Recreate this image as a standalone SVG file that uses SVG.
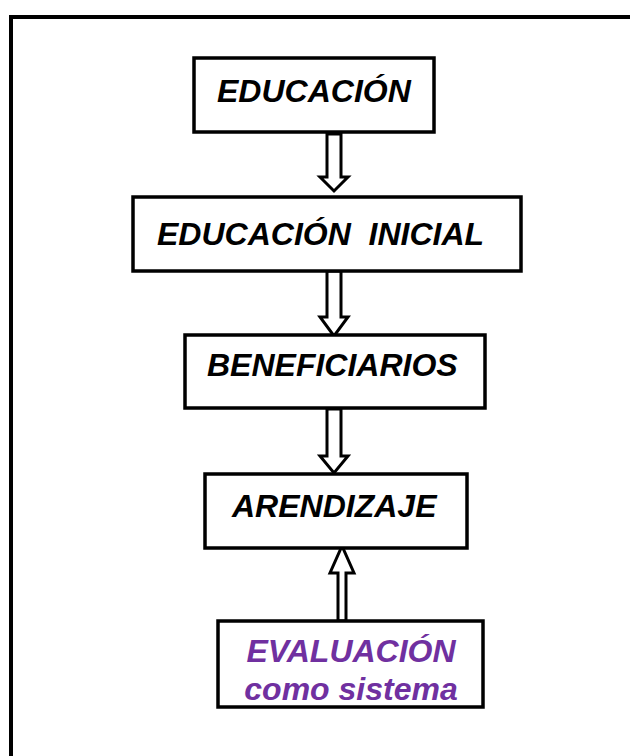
<svg xmlns="http://www.w3.org/2000/svg" width="630" height="756" viewBox="0 0 630 756">
<style>
.box{fill:#fff;stroke:#000;stroke-width:3.5}
.t{font-family:"Liberation Sans",Arial,sans-serif;font-weight:bold;font-style:italic;font-size:32px;fill:#000}
.p{fill:#7030A0;text-anchor:middle}
.arr{fill:#fff;stroke:#000;stroke-width:3;stroke-linejoin:miter}
</style>
<rect x="0" y="0" width="630" height="756" fill="#fff"/>
<rect x="11" y="17" width="640" height="760" fill="none" stroke="#000" stroke-width="4"/>
<g id="connectors">
<path class="arr" d="M327,134 L341,134 L341,177 L348,177 L334,191 L320,177 L327,177 Z"/>
<path class="arr" d="M327,271 L341,271 L341,317 L348,317 L334,336 L320,317 L327,317 Z"/>
<path class="arr" d="M327,409 L341,409 L341,456 L348,456 L334,473 L320,456 L327,456 Z"/>
<path class="arr" d="M338,621 L346,621 L346,573 L354,573 L342,546 L330,573 L338,573 Z"/>
</g>
<g id="n1"><rect class="box" x="194" y="58" width="240" height="74"/><text class="t" x="217" y="102">EDUCACIÓN</text></g>
<g id="n2"><rect class="box" x="133" y="197" width="388" height="74"/><text class="t" x="157" y="245" xml:space="preserve">EDUCACIÓN  INICIAL</text></g>
<g id="n3"><rect class="box" x="185" y="335" width="300" height="73"/><text class="t" x="207" y="376">BENEFICIARIOS</text></g>
<g id="n4"><rect class="box" x="205" y="474" width="262" height="74"/><text class="t" x="232" y="517">ARENDIZAJE</text></g>
<g id="n5"><rect class="box" x="218" y="621" width="265" height="86"/><text class="t p" x="351" y="662">EVALUACIÓN</text><text class="t p" x="351" y="700">como sistema</text></g>
</svg>
